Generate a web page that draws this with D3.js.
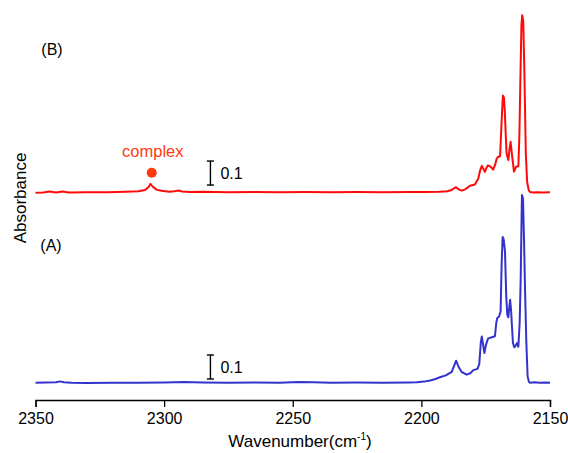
<!DOCTYPE html>
<html>
<head>
<meta charset="utf-8">
<script src="https://cdn.jsdelivr.net/npm/d3@7"></script>
<style>
  html, body { margin: 0; padding: 0; background: #fff; }
  svg { display: block; }
  text { font-family: "Liberation Sans", Arial, Helvetica, sans-serif; fill: #000; }
</style>
</head>
<body>
<svg id="chart" width="568" height="453"></svg>
<script>
// ---- Data ----
const xTicks = [2350, 2300, 2250, 2200, 2150];

// Spectrum (A) - blue
const wnA = [2350, 2346, 2342, 2340.5, 2339, 2336, 2330, 2320, 2310, 2300, 2292, 2285, 2275, 2265, 2255, 2248, 2242, 2235, 2225, 2215, 2205, 2201.8, 2199, 2196.6, 2194.5, 2192.8, 2190.5, 2188.2, 2187.2, 2186.5, 2185.6, 2184.4, 2182.4, 2181, 2179.8, 2178.2, 2177.5, 2176.9, 2176.5, 2176, 2175.5, 2174.9, 2174.1, 2173.2, 2172.3, 2171.4, 2170.9, 2170.5, 2169.8, 2169.2, 2168.8, 2168.4, 2168, 2167.5, 2167.0, 2166.6, 2166.2, 2165.8, 2165.5, 2165.1, 2164.8, 2164.4, 2163.9, 2163.3, 2162.8, 2162.3, 2161.8, 2161.4, 2161.1, 2160.9, 2160.5, 2160.1, 2159.7, 2159.2, 2158.7, 2158.2, 2157.8, 2156, 2154, 2152, 2150];
const absA = [0.002, 0.003, 0.004, 0.008, 0.004, 0.002, 0.001, 0.002, 0.002, 0.003, 0.005, 0.003, 0.002, 0.003, 0.002, 0.005, 0.004, 0.002, 0.003, 0.002, 0.003, 0.004, 0.007, 0.012, 0.018, 0.025, 0.033, 0.048, 0.075, 0.094, 0.070, 0.048, 0.036, 0.042, 0.055, 0.060, 0.080, 0.170, 0.195, 0.160, 0.126, 0.160, 0.186, 0.190, 0.193, 0.196, 0.250, 0.272, 0.278, 0.300, 0.500, 0.610, 0.600, 0.550, 0.360, 0.285, 0.275, 0.320, 0.348, 0.300, 0.240, 0.168, 0.150, 0.158, 0.168, 0.152, 0.250, 0.430, 0.650, 0.785, 0.770, 0.600, 0.390, 0.170, 0.028, 0.006, 0.002, 0.004, 0.002, 0.003, 0.002];

// Spectrum (B) - red
const wnB = [2350, 2347, 2344.5, 2342, 2339.5, 2337, 2330, 2322, 2315, 2310, 2307.5, 2306, 2305.3, 2304.5, 2303, 2301, 2298, 2296, 2294.5, 2293, 2290, 2285, 2275, 2265, 2255, 2245, 2235, 2225, 2215, 2205, 2198, 2193, 2190, 2188.5, 2187.3, 2186.5, 2185.5, 2184.3, 2183, 2181.1, 2179.2, 2177.9, 2177.2, 2176.5, 2175.9, 2175.3, 2174.7, 2174.1, 2173, 2172.1, 2171.3, 2170.7, 2170.1, 2169.4, 2168.8, 2168.3, 2167.9, 2167.6, 2166.9, 2166.2, 2165.7, 2165.3, 2164.8, 2164.0, 2163.2, 2162.3, 2161.9, 2161.5, 2161.1, 2160.8, 2160.4, 2160.0, 2159.4, 2158.9, 2158.3, 2157.8, 2156.5, 2155, 2153, 2150];
const absB = [0.000, 0.001, 0.005, 0.001, 0.005, 0.001, 0.002, 0.002, 0.004, 0.006, 0.011, 0.024, 0.037, 0.026, 0.013, 0.008, 0.004, 0.006, 0.009, 0.005, 0.003, 0.004, 0.002, 0.003, 0.002, 0.003, 0.002, 0.003, 0.002, 0.003, 0.003, 0.004, 0.006, 0.010, 0.018, 0.023, 0.014, 0.009, 0.014, 0.029, 0.034, 0.058, 0.092, 0.112, 0.100, 0.087, 0.104, 0.114, 0.108, 0.096, 0.118, 0.143, 0.150, 0.152, 0.300, 0.405, 0.395, 0.345, 0.165, 0.136, 0.185, 0.212, 0.160, 0.088, 0.108, 0.110, 0.240, 0.480, 0.700, 0.740, 0.715, 0.525, 0.165, 0.046, 0.012, 0.003, 0.001, 0.002, 0.001, 0.002];

const offsetB = 0.794;         // vertical offset of spectrum (B)
const scaleBar = 0.1;          // absorbance scale bar length
const complexWn = 2304.8;      // annotated "complex" band

// ---- Layout ----
const svg = d3.select("#chart");
const x = d3.scaleLinear().domain([2350, 2150]).range([35.5, 550]);
const y = d3.scaleLinear().domain([0, 1]).range([383.3, 143.3]);

const line = d3.line().x(d => x(d[0])).y(d => y(d[1])).curve(d3.curveLinear);

const dataA = wnA.map((w, i) => [w, absA[i]]);
const dataB = wnB.map((w, i) => [w, absB[i] + offsetB]);

svg.append("path").datum(dataA).attr("d", line)
  .attr("fill", "none").attr("stroke", "#3333cc").attr("stroke-width", 2).attr("stroke-linejoin", "round");
svg.append("path").datum(dataB).attr("d", line)
  .attr("fill", "none").attr("stroke", "#ff0a0a").attr("stroke-width", 2).attr("stroke-linejoin", "round");

// ---- Axis ----
const axis = d3.axisBottom(x).tickValues(xTicks).tickFormat(d3.format("d")).tickSize(7).tickSizeOuter(7).tickPadding(6);
const gAx = svg.append("g").attr("transform", "translate(0,400)").call(axis);
gAx.selectAll("path, line").attr("stroke", "#000").attr("stroke-width", 1.3);
gAx.selectAll("text").attr("font-size", 16).attr("font-family", "Liberation Sans, Arial, sans-serif").attr("fill", "#000");

const title = svg.append("text").attr("x", 300).attr("y", 447).attr("text-anchor", "middle").attr("font-size", 17);
title.append("tspan").text("Wavenumber(cm");
title.append("tspan").attr("font-size", 10).attr("dy", -7).text("-1");
title.append("tspan").attr("dy", 7).text(")");

svg.append("text").attr("transform", "translate(26,198) rotate(-90)").attr("text-anchor", "middle")
  .attr("font-size", 17).text("Absorbance");

// ---- Labels ----
svg.append("text").attr("x", 52).attr("y", 55).attr("text-anchor", "middle").attr("font-size", 16).text("(B)");
svg.append("text").attr("x", 51).attr("y", 251).attr("text-anchor", "middle").attr("font-size", 16).text("(A)");

// ---- Scale bars ----
function scaleBarAt(wn, base) {
  const xb = x(wn);
  const g = svg.append("g").attr("stroke", "#000").attr("stroke-width", 1.4);
  g.append("line").attr("x1", xb).attr("x2", xb).attr("y1", y(base)).attr("y2", y(base + scaleBar));
  g.append("line").attr("x1", xb - 3.5).attr("x2", xb + 3.5).attr("y1", y(base)).attr("y2", y(base));
  g.append("line").attr("x1", xb - 3.5).attr("x2", xb + 3.5).attr("y1", y(base + scaleBar)).attr("y2", y(base + scaleBar));
  svg.append("text").attr("x", xb + 10).attr("y", y(base + scaleBar / 2) + 6).attr("font-size", 16).text("0.1");
}
scaleBarAt(2282, 0.018);
scaleBarAt(2282, offsetB + 0.032);

// ---- Complex annotation ----
svg.append("circle").attr("cx", x(complexWn)).attr("cy", y(offsetB + 0.083)).attr("r", 5).attr("fill", "#ff3a10");
svg.append("text").attr("x", x(complexWn) + 1).attr("y", y(offsetB + 0.15)).attr("text-anchor", "middle")
  .attr("font-size", 16.5).style("fill", "#ff3a10").text("complex");
</script>
</body>
</html>
